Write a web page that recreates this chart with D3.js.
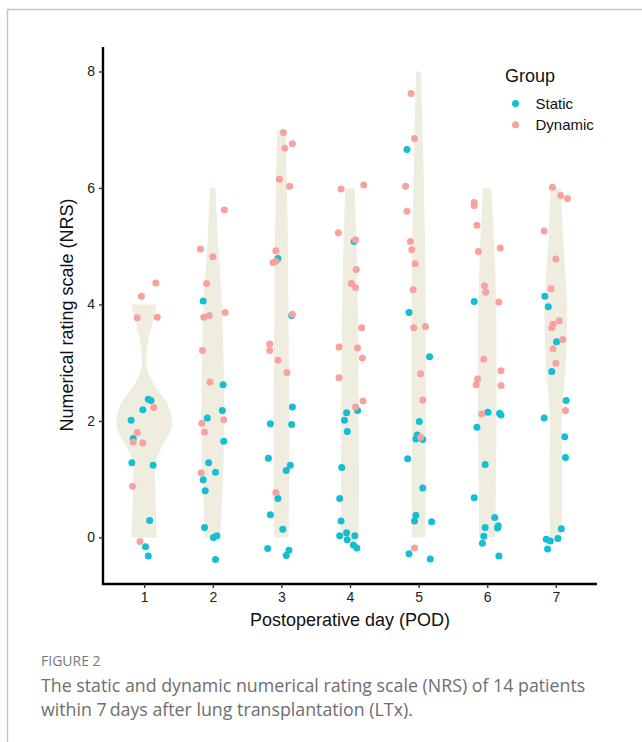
<!DOCTYPE html>
<html>
<head>
<meta charset="utf-8">
<script src="https://cdn.jsdelivr.net/npm/d3@7"></script>
<style>
  body { margin: 0; background: #fff; }
  svg text { font-family: "Liberation Sans", Arial, sans-serif; }
</style>
</head>
<body>
<div id="chart"></div>
<script>
// days on the x axis
var days = [1, 2, 3, 4, 5, 6, 7];
var yTicks = [0, 2, 4, 6, 8];
var groups = ["Static", "Dynamic"];

// violin half-widths (in day units) read at NRS levels: [nrs, halfWidth]
var violin1 = [[4.0, 0.187], [3.85, 0.160], [3.7, 0.124], [3.5, 0.080], [3.3, 0.048],
               [3.1, 0.034], [2.95, 0.034], [2.8, 0.066], [2.65, 0.131], [2.5, 0.219],
               [2.35, 0.313], [2.2, 0.372], [2.0, 0.408], [1.8, 0.372], [1.65, 0.306],
               [1.5, 0.233], [1.35, 0.182], [1.2, 0.160], [1.0, 0.160], [0.6, 0.168],
               [0.3, 0.175], [0.0, 0.187]];
var violin2 = [[6, 0.041], [5.5, 0.058], [5, 0.080], [4, 0.134], [3, 0.157], [2, 0.168], [1, 0.150], [0, 0.109]];
var violin3 = [[7, 0.061], [6, 0.080], [5, 0.095], [4, 0.102], [3, 0.109], [2, 0.117], [1, 0.112], [0, 0.106]];
var violin4 = [[6, 0.069], [5, 0.095], [4, 0.114], [3, 0.124], [2, 0.127], [1, 0.131], [0, 0.128]];
var violin5 = [[8, 0.036], [7, 0.058], [6, 0.077], [5, 0.095], [4, 0.102], [3, 0.105], [2, 0.102], [1, 0.102], [0, 0.099]];
var violin6 = [[6, 0.061], [5, 0.102], [4, 0.131], [3, 0.136], [2, 0.136], [1, 0.127], [0, 0.117]];
var violin7 = [[6, 0.073], [5, 0.114], [4, 0.165], [3.5, 0.160], [3, 0.146], [2.5, 0.112], [2, 0.087], [1, 0.092], [0, 0.085]];
var violins = [violin1, violin2, violin3, violin4, violin5, violin6, violin7];

// jittered points as read: [day, x jitter, nrs]
var staticPts = [
  [1,0.06,2.37],[1,0.10,2.35],[1,-0.02,2.19],[1,-0.19,2.01],[1,-0.16,1.70],[1,-0.18,1.28],[1,0.13,1.24],[1,0.08,0.29],[1,0.02,-0.16],[1,0.06,-0.32],
  [2,-0.14,4.06],[2,0.15,2.62],[2,0.14,2.18],[2,-0.08,2.05],[2,0.16,1.65],[2,-0.06,1.28],[2,0.04,1.12],[2,-0.14,0.99],[2,-0.11,0.80],[2,-0.12,0.17],[2,0.01,0.0],[2,0.06,0.03],[2,0.04,-0.38],
  [3,-0.05,4.79],[3,0.15,3.81],[3,0.16,2.24],[3,-0.16,1.95],[3,0.15,1.94],[3,-0.19,1.36],[3,0.13,1.24],[3,0.07,1.15],[3,-0.05,0.67],[3,-0.16,0.39],[3,0.02,0.14],[3,-0.2,-0.19],[3,0.11,-0.22],[3,0.07,-0.31],
  [4,0.06,5.08],[4,0.11,2.18],[4,-0.05,2.14],[4,-0.08,2.01],[4,-0.04,1.82],[4,-0.12,1.20],[4,-0.15,0.67],[4,-0.13,0.28],[4,-0.15,0.03],[4,-0.05,0.08],[4,0.07,0.03],[4,-0.04,-0.04],[4,0.05,-0.13],[4,0.10,-0.18],
  [5,-0.17,6.66],[5,-0.14,3.86],[5,0.16,3.10],[5,0.01,1.99],[5,-0.02,1.76],[5,-0.04,1.69],[5,0.06,1.68],[5,-0.16,1.35],[5,0.06,0.85],[5,-0.04,0.38],[5,-0.06,0.28],[5,0.19,0.27],[5,-0.14,-0.28],[5,0.17,-0.37],
  [6,-0.19,4.05],[6,0.01,2.15],[6,0.18,2.13],[6,0.20,2.10],[6,-0.15,1.89],[6,-0.03,1.25],[6,-0.19,0.68],[6,0.11,0.34],[6,-0.03,0.17],[6,0.16,0.20],[6,0.15,0.16],[6,-0.05,0.02],[6,-0.07,-0.10],[6,0.17,-0.32],
  [7,-0.16,4.14],[7,-0.11,3.96],[7,0.01,3.36],[7,-0.06,2.85],[7,0.15,2.35],[7,-0.17,2.05],[7,0.13,1.73],[7,0.14,1.37],[7,0.08,0.15],[7,-0.14,-0.03],[7,-0.08,-0.06],[7,0.03,-0.02],[7,-0.12,-0.2]
];
var dynamicPts = [
  [1,-0.04,4.14],[1,0.17,4.37],[1,-0.10,3.77],[1,0.19,3.78],[1,0.14,2.23],[1,-0.10,1.80],[1,-0.16,1.64],[1,-0.02,1.62],[1,-0.17,0.88],[1,-0.06,-0.07],
  [2,0.17,5.62],[2,-0.18,4.95],[2,0,4.82],[2,-0.09,4.36],[2,-0.13,3.78],[2,-0.05,3.81],[2,0.18,3.86],[2,-0.15,3.21],[2,-0.04,2.67],[2,0.16,2.02],[2,-0.16,1.96],[2,-0.12,1.81],[2,-0.17,1.11],
  [3,0.03,6.95],[3,0.16,6.76],[3,0.05,6.68],[3,-0.03,6.15],[3,0.12,6.03],[3,-0.08,4.92],[3,-0.12,4.72],[3,-0.08,4.74],[3,0.16,3.83],[3,-0.17,3.32],[3,-0.17,3.21],[3,-0.05,3.04],[3,0.08,2.83],[3,-0.08,0.77],
  [4,-0.13,5.98],[4,0.20,6.05],[4,-0.17,5.23],[4,0.08,5.11],[4,0.09,4.60],[4,0.02,4.36],[4,0.08,4.29],[4,0.17,3.60],[4,-0.16,3.27],[4,0.11,3.25],[4,0.18,3.08],[4,-0.16,2.74],[4,0.19,2.34],[4,0.08,2.24],
  [5,-0.11,7.62],[5,-0.06,6.85],[5,-0.19,6.03],[5,-0.17,5.60],[5,-0.12,5.08],[5,-0.10,4.94],[5,-0.05,4.70],[5,-0.08,4.25],[5,-0.07,3.60],[5,0.10,3.62],[5,0.03,2.81],[5,0.06,2.36],[5,0.03,1.72],[5,-0.06,-0.18],
  [6,-0.19,5.75],[6,-0.19,5.70],[6,-0.15,5.36],[6,-0.13,4.91],[6,0.19,4.97],[6,-0.04,4.32],[6,-0.02,4.21],[6,0.17,4.04],[6,-0.05,3.06],[6,0.20,2.86],[6,-0.14,2.72],[6,-0.16,2.62],[6,0.20,2.61],[6,-0.08,2.12],
  [7,-0.05,6.01],[7,0.07,5.87],[7,0.17,5.82],[7,-0.17,5.26],[7,0,4.78],[7,-0.07,4.27],[7,0.05,3.72],[7,-0.04,3.66],[7,-0.06,3.60],[7,0.10,3.40],[7,-0.04,3.24],[7,0,2.99],[7,0.14,2.18]
];

var colors = { Static: "#14bed3", Dynamic: "#f9a19f" };
var violinFill = "#efede0";

var W = 642, H = 742;
var svg = d3.select("#chart").append("svg")
  .attr("width", W).attr("height", H);

// figure frame (left and top rules)
svg.append("path")
  .attr("d", "M7.5,742V9.5H642")
  .attr("fill", "none").attr("stroke", "#c4c4c4").attr("stroke-width", 1.5);

// scales
var x = d3.scaleLinear().domain([0.4, 7.6]).range([103, 597]);
var y = d3.scaleLinear().domain([-0.8, 8.42]).range([584, 47]);

// violins
var area = d3.area()
  .curve(d3.curveCatmullRom)
  .y(function(d) { return y(d[0]); });

violins.forEach(function(v, i) {
  var day = days[i];
  svg.append("path")
    .datum(v)
    .attr("fill", violinFill)
    .attr("d", area.x0(function(d) { return x(day - d[1]); })
                   .x1(function(d) { return x(day + d[1]); }));
});

// points
function drawPoints(pts, color) {
  svg.append("g").selectAll("circle")
    .data(pts).enter().append("circle")
    .attr("cx", function(d) { return x(d[0] + d[1]); })
    .attr("cy", function(d) { return y(d[2]); })
    .attr("r", 3.5)
    .attr("fill", color);
}
drawPoints(staticPts, colors.Static);
drawPoints(dynamicPts, colors.Dynamic);

// axes
var yAxis = svg.append("g")
  .attr("transform", "translate(103,0)")
  .call(d3.axisLeft(y).tickValues(yTicks).tickSize(4).tickSizeOuter(0).tickPadding(4));
var xAxis = svg.append("g")
  .attr("transform", "translate(0,584)")
  .call(d3.axisBottom(x).tickValues(days).tickSize(4).tickSizeOuter(0).tickPadding(4));

[yAxis, xAxis].forEach(function(a) {
  a.select(".domain").attr("stroke", "#000").attr("stroke-width", 2.4);
  a.selectAll(".tick line").attr("stroke", "#333").attr("stroke-width", 1.4);
  a.selectAll(".tick text")
    .attr("fill", "#222")
    .style("font-size", "14px")
    .style("font-family", "'Liberation Sans', Arial, sans-serif");
});
yAxis.select(".domain").attr("d", "M0,47V585");
xAxis.select(".domain").attr("d", "M102,0H597");

// axis titles
svg.append("text")
  .attr("x", 350).attr("y", 625.5)
  .attr("text-anchor", "middle")
  .style("font-size", "18px").attr("fill", "#111")
  .text("Postoperative day (POD)");
svg.append("text")
  .attr("transform", "translate(73,315) rotate(-90)")
  .attr("text-anchor", "middle")
  .style("font-size", "18px").attr("fill", "#111")
  .text("Numerical rating scale (NRS)");

// legend
var legend = svg.append("g").attr("transform", "translate(505,0)");
legend.append("text")
  .attr("x", 0).attr("y", 82)
  .style("font-size", "18px").attr("fill", "#111")
  .text("Group");
groups.forEach(function(g, i) {
  legend.append("circle")
    .attr("cx", 10.5).attr("cy", 103.5 + i * 21.3)
    .attr("r", 3.5).attr("fill", colors[g]);
  legend.append("text")
    .attr("x", 30.5).attr("y", 108.5 + i * 21.3)
    .style("font-size", "15px").attr("fill", "#111")
    .text(g);
});

// caption
svg.append("text")
  .attr("x", 41).attr("y", 666)
  .style("font-family", "'Open Sans', sans-serif")
  .style("font-size", "14px").attr("fill", "#7a7a7a")
  .text("FIGURE 2");
var cap = svg.append("text")
  .style("font-family", "'Open Sans', sans-serif")
  .style("font-size", "17.8px").attr("fill", "#6e6e6e");
cap.append("tspan").attr("x", 41).attr("y", 692)
  .text("The static and dynamic numerical rating scale (NRS) of 14 patients");
cap.append("tspan").attr("x", 41).attr("y", 716)
  .text("within 7\u2009days after lung transplantation (LTx).");
</script>
</body>
</html>
